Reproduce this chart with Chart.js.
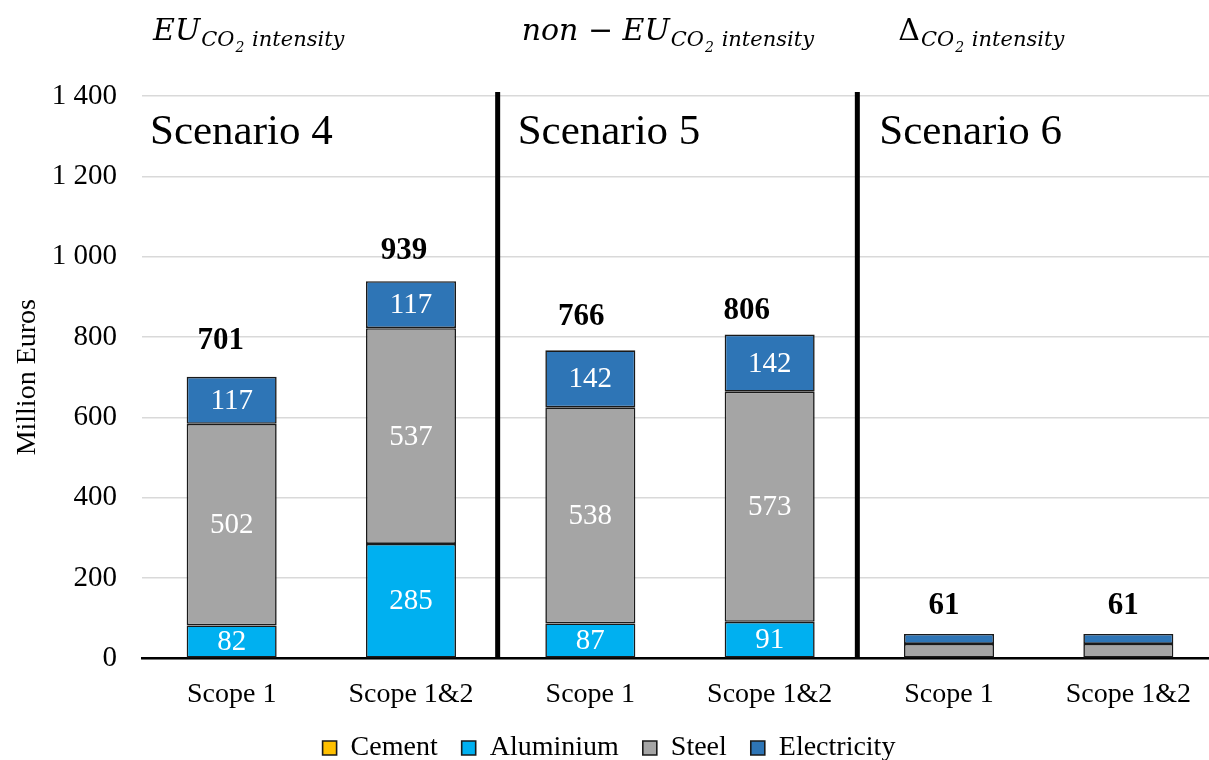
<!DOCTYPE html>
<html>
<head>
<meta charset="utf-8">
<script src="https://cdn.jsdelivr.net/npm/chart.js@4.4.1/dist/chart.umd.min.js"></script>
<style>
  html, body { margin: 0; padding: 0; background: #fff; overflow: hidden; }
  #wrap { position: relative; width: 1218px; height: 772px; }
</style>
</head>
<body>
<div id="wrap"><canvas id="chart"></canvas></div>
<script>
// Categories and scenario groups
const categories = ['Scope 1', 'Scope 1&2', 'Scope 1', 'Scope 1&2', 'Scope 1', 'Scope 1&2'];
const scenarios = ['Scenario 4', 'Scenario 5', 'Scenario 6'];

// Cost components (million euros)
const cement      = [0, 0, 0, 0, 0, 0];
const aluminium   = [82, 285, 87, 91, 0, 0];
const steel       = [502, 537, 538, 573, 36, 36];
const electricity = [117, 117, 142, 142, 25, 25];

// Totals shown above each bar
const totals = [701, 939, 766, 806, 61, 61];

const yTicks = [0, 200, 400, 600, 800, 1000, 1200, 1400];

const SERIF = '"Liberation Serif", "Times New Roman", serif';
const MATH = '"DejaVu Serif", serif';

// Nudges for the total labels (pixels) relative to the top centre of each stack
const totalNudge = [[-11, -36], [-7, -30], [-9, -34], [-23, -24], [-5, -28], [-5, -28]];

function fmt(v) {
  return String(v).replace(/\B(?=(\d{3})+(?!\d))/g, ' ');
}

const overlay = {
  id: 'overlay',
  afterDatasetsDraw(chart) {
    const { ctx, chartArea, scales: { x, y } } = chart;
    ctx.save();

    // Segment values inside the bars
    ctx.fillStyle = '#ffffff';
    ctx.font = '29px ' + SERIF;
    ctx.textAlign = 'center';
    ctx.textBaseline = 'middle';
    chart.data.datasets.forEach((ds, di) => {
      const meta = chart.getDatasetMeta(di);
      meta.data.forEach((bar, i) => {
        const v = ds.data[i];
        if (!v) return;
        const h = Math.abs(bar.base - bar.y);
        if (h < 30) return;
        ctx.fillText(String(v), bar.x, (bar.y + bar.base) / 2 + 1);
      });
    });

    // Totals
    ctx.fillStyle = '#000';
    ctx.font = 'bold 31px ' + SERIF;
    totals.forEach((t, i) => {
      const cx = x.getPixelForValue(i);
      const top = y.getPixelForValue(t);
      ctx.fillText(String(t), cx + totalNudge[i][0], top + totalNudge[i][1]);
    });

    // Vertical separators between scenarios
    const d1 = (x.getPixelForValue(1) + x.getPixelForValue(2)) / 2 - 3;
    const d2 = (x.getPixelForValue(3) + x.getPixelForValue(4)) / 2 - 2;
    ctx.strokeStyle = '#000';
    ctx.lineWidth = 5;
    [d1, d2].forEach(dx => {
      ctx.beginPath();
      ctx.moveTo(dx, chartArea.top - 4);
      ctx.lineTo(dx, chartArea.bottom);
      ctx.stroke();
    });

    // Scenario names
    const starts = [chartArea.left, d1, d2];
    const scenOff = [8, 20, 22];
    ctx.textAlign = 'left';
    ctx.textBaseline = 'alphabetic';
    ctx.font = '43px ' + SERIF;
    scenarios.forEach((s, i) => {
      ctx.fillText(s, starts[i] + scenOff[i], chartArea.top + 48);
    });

    // Formula headings
    const headOff = [11, 24, 41];
    const base = 40;
    const heads = [
      [{ t: 'EU', it: true }],
      [{ t: 'non', it: true }, { t: ' \u2212 ', it: false }, { t: 'EU', it: true }],
      [{ t: '\u0394', it: false }]
    ];
    heads.forEach((parts, i) => {
      let cx = starts[i] + headOff[i];
      parts.forEach(p => {
        ctx.font = (p.it ? 'italic ' : '') + '30px ' + MATH;
        ctx.fillText(p.t, cx, base);
        cx += ctx.measureText(p.t).width;
      });
      ctx.font = 'italic 21px ' + MATH;
      ctx.fillText('CO', cx + 1, base + 6);
      cx += ctx.measureText('CO').width + 1;
      ctx.font = 'italic 14px ' + MATH;
      ctx.fillText('2', cx + 1, base + 12);
      cx += ctx.measureText('2').width + 2;
      ctx.font = 'italic 21px ' + MATH;
      ctx.fillText(' intensity', cx, base + 6);
    });

    ctx.restore();
  }
};

const border = '#1a1a1a';
new Chart(document.getElementById('chart'), {
  type: 'bar',
  data: {
    labels: categories,
    datasets: [
      { label: 'Cement', data: cement, backgroundColor: '#FFC000', borderColor: border, borderWidth: 1.6 },
      { label: 'Aluminium', data: aluminium, backgroundColor: '#00B0F0', borderColor: border, borderWidth: 1.6 },
      { label: 'Steel', data: steel, backgroundColor: '#A5A5A5', borderColor: border, borderWidth: 1.6 },
      { label: 'Electricity', data: electricity, backgroundColor: '#2E75B6', borderColor: border, borderWidth: 1.6 }
    ]
  },
  options: {
    responsive: true,
    maintainAspectRatio: false,
    animation: false,
    layout: { padding: { top: 96, left: 0, right: 0, bottom: 0 } },
    datasets: { bar: { barPercentage: 1, categoryPercentage: 0.502, borderSkipped: false } },
    scales: {
      x: {
        stacked: true,
        afterFit(scale) { scale.height -= 20; },
        grid: { display: false, drawTicks: false },
        border: { display: true, color: '#000', width: 2.5 },
        ticks: { color: '#000', font: { family: SERIF, size: 28 }, padding: 19, maxRotation: 0 }
      },
      y: {
        stacked: true,
        min: 0,
        max: 1400,
        afterBuildTicks(scale) { scale.ticks = yTicks.map(v => ({ value: v })); },
        afterFit(scale) { scale.width = 142; },
        grid: { color: '#d9d9d9', lineWidth: 1.5, drawTicks: false },
        border: { display: false },
        ticks: { color: '#000', font: { family: SERIF, size: 29 }, padding: 25, callback: v => fmt(v) },
        title: { display: true, text: 'Million Euros', color: '#000', font: { family: SERIF, size: 28 }, padding: { top: 11, bottom: 0 } }
      }
    },
    plugins: {
      legend: {
        position: 'bottom',
        labels: { color: '#000', font: { family: SERIF, size: 28 }, boxWidth: 14, boxHeight: 14, padding: 24 }
      },
      tooltip: { enabled: false }
    }
  },
  plugins: [overlay]
});
</script>
</body>
</html>
